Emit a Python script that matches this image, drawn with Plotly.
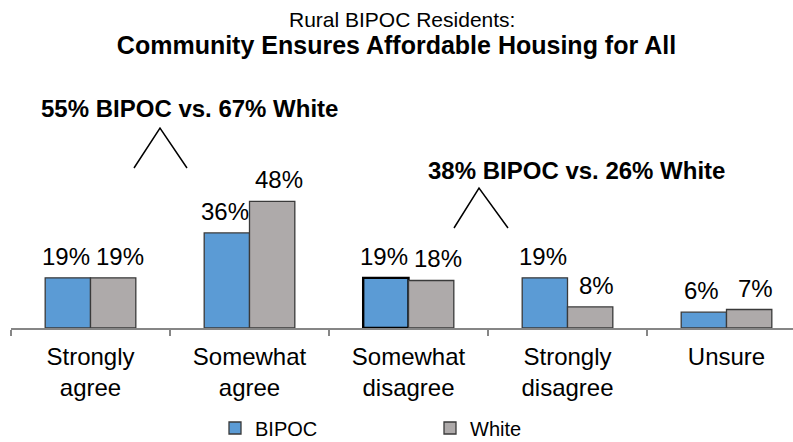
import plotly.graph_objects as go

# ---- data ----
categories = ["Strongly<br>agree", "Somewhat<br>agree", "Somewhat<br>disagree", "Strongly<br>disagree", "Unsure"]
bipoc = [19, 36, 19, 19, 6]
white = [19, 48, 18, 8, 7]
series_names = ["BIPOC", "White"]
callouts = ["55% BIPOC vs. 67% White", "38% BIPOC vs. 26% White"]
subtitle = "Rural BIPOC Residents:"
title = "Community Ensures Affordable Housing for All"

FONT = "Liberation Sans, Arial, sans-serif"
W, H = 793, 442
ML, MR, MT, MB = 11, 0, 95, 114
PW, PH = W - ML - MR, H - MT - MB


def px(x):
    return (x - ML) / PW


def py(y):
    return (H - MB - y) / PH


fig = go.Figure()
fig.add_trace(go.Bar(
    name=series_names[0], x=categories, y=bipoc,
    marker=dict(color="#5B9BD5",
                line=dict(color=["#3a3a3a", "#3a3a3a", "#000000", "#3a3a3a", "#3a3a3a"],
                          width=[1.3, 1.3, 2.4, 1.3, 1.3])),
))
fig.add_trace(go.Bar(
    name=series_names[1], x=categories, y=white,
    marker=dict(color="#AEAAAA", line=dict(color="#3a3a3a", width=1.3)),
))

ann = []
# value labels, placed over each bar via the data scales
for vals, dx in [(bipoc, -25), (white, 29)]:
    for c, v in zip(categories, vals):
        ann.append(dict(text=f"{v}%", x=c, y=v, xref="x", yref="y", xshift=dx, yshift=6,
                        xanchor="center", yanchor="bottom", showarrow=False,
                        font=dict(size=24, color="#000", family=FONT)))
ann.append(dict(text=subtitle, x=0.5, xref="paper", y=py(20), yref="paper",
                xanchor="center", yanchor="middle",
                showarrow=False, font=dict(size=21, color="#000", family=FONT)))
ann.append(dict(text=f"<b>{callouts[0]}</b>", x=px(189), xref="paper", y=py(108), yref="paper",
                xanchor="center", yanchor="middle",
                showarrow=False, font=dict(size=24, color="#000", family=FONT)))
ann.append(dict(text=f"<b>{callouts[1]}</b>", x=px(576), xref="paper", y=py(170), yref="paper",
                xanchor="center", yanchor="middle",
                showarrow=False, font=dict(size=24, color="#000", family=FONT)))
fig.update_layout(annotations=ann)

# caret connectors
for (lx, ax, rx, ty, by) in [(134, 160, 187, 128, 168), (454, 479, 508, 188, 228)]:
    fig.add_shape(type="path", xref="paper", yref="paper",
                  path=f"M {px(lx)} {py(by)} L {px(ax)} {py(ty)} L {px(rx)} {py(by)}",
                  line=dict(color="#000000", width=1.5))

fig.update_layout(
    width=W, height=H,
    margin=dict(l=ML, r=MR, t=MT, b=MB, pad=0, autoexpand=False),
    paper_bgcolor="white", plot_bgcolor="white",
    font=dict(family=FONT, color="#000000"),
    title=dict(text=f"<b>{title}</b>", x=0.5, xanchor="center", y=1 - 45 / H, yanchor="middle",
               yref="container", font=dict(size=25, color="#000", family=FONT)),
    barmode="group", bargap=0.43, bargroupgap=0,
    xaxis=dict(range=[-0.5, 4.5 - 13 / 159], showline=True, linecolor="#868686", linewidth=1.5,
               ticks="outside", tickson="boundaries", ticklen=6, tickcolor="#868686", tickwidth=1.5,
               ticklabelstandoff=6,
               tickfont=dict(size=24, color="#000", family=FONT), showgrid=False, zeroline=False),
    yaxis=dict(range=[0, PH / 2.64], visible=False, showgrid=False, zeroline=False),
    showlegend=True,
    legend=dict(orientation="h", x=px(215), xanchor="left", y=py(428), yanchor="middle",
                font=dict(size=20, color="#000", family=FONT), itemwidth=30,
                entrywidth=170, entrywidthmode="pixels", traceorder="normal"),
)

fig.write_html("out.html", config={"displayModeBar": False},
               post_script="document.body.style.margin='0';document.body.style.overflow='hidden';")
